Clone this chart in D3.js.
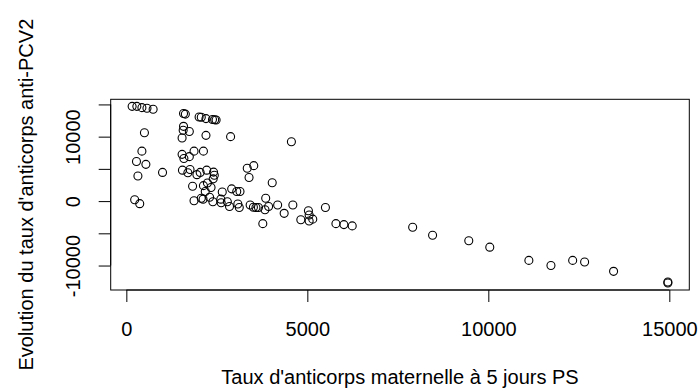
<!DOCTYPE html>
<html>
<head>
<meta charset="utf-8">
<script src="https://cdn.jsdelivr.net/npm/d3@7"></script>
<style>
  body { margin: 0; background: #fff; }
  svg { display: block; }
  text { font-family: "Liberation Sans", Arial, sans-serif; fill: #000; }
</style>
</head>
<body>
<svg id="chart"></svg>
<script>
// taux d'anticorps maternelle a 5 jours PS
const tauxMaternel = [
  160, 290, 430, 570, 740, 500, 430, 280, 540, 320, 1000, 230, 370,
  1580, 1630, 2010, 2070, 2200, 2380, 2440, 2480, 1580, 1570, 1740, 1540, 2200, 2880, 4560,
  1540, 1590, 1740, 1870, 2130, 3340, 3520, 3390, 4030,
  1550, 1700, 1760, 1950, 2040, 2220, 2410, 2430, 2400, 2240, 2130, 1830, 2340, 2180,
  2650, 2910, 3050, 3140, 1870, 2070, 2120, 2300, 2390, 2610, 2620, 2790, 2850, 3080,
  3120, 3420, 3510, 3580, 3650, 3850, 3830, 3930, 4180, 4360, 4600, 3770, 4820, 5030,
  5050, 5050, 5150, 5500, 5790, 6010, 6240,
  7910, 8460, 9460, 10040, 11120, 11730, 12330, 12660, 13460, 14960, 14960
];
// evolution du taux d'anticorps anti-PCV2
const evolution = [
  14700, 14700, 14500, 14400, 14250, 10600, 7750, 6150, 5700, 3900, 4450, 200, -400,
  13600, 13500, 13050, 13000, 12800, 12650, 12620, 12580, 11600, 11000, 10800, 9800, 10200, 10000, 9200,
  7250, 6600, 6900, 7750, 7750, 5100, 5500, 3650, 2850,
  4800, 4400, 4900, 4100, 4450, 4800, 4500, 4000, 3450, 2800, 2400, 2300, 2100, 1500,
  1400, 1900, 1500, 1500, 50, 450, 300, 600, -100, 300, -250, -100, -850, -450,
  -1000, -600, -950, -1000, -1000, 450, -1350, -850, -600, -1900, -600, -3500, -2900, -1500,
  -2150, -3100, -2800, -1000, -3500, -3650, -3850,
  -4050, -5300, -6150, -7150, -9200, -10000, -9200, -9450, -10900, -12550, -12700
];
const xTicks = [0, 5000, 10000, 15000];
const yTicks = [-10000, -5000, 0, 5000, 10000, 15000];
const yTickLabels = ["-10000", "", "0", "", "10000", ""];

const xTitle = "Taux d'anticorps maternelle à 5 jours PS";
const yTitle = "Evolution du taux d'anticorps anti-PCV2";

const W = 698, H = 391;
const margin = { top: 99.3, right: 8.7, bottom: 101, left: 110.7 };
const w = W - margin.left - margin.right;
const h = H - margin.top - margin.bottom;

// base R style 4% range padding
function padded(vals) {
  const [lo, hi] = d3.extent(vals);
  const p = (hi - lo) * 0.04;
  return [lo - p, hi + p];
}

const svg = d3.select('#chart')
  .attr('width', W)
  .attr('height', H);

const g = svg.append('g')
  .attr('transform', `translate(${margin.left},${margin.top})`);

const xScale = d3.scaleLinear()
  .domain(padded(tauxMaternel))
  .range([0, w]);
const yScale = d3.scaleLinear()
  .domain(padded(evolution))
  .range([h, 0]);

const xAxis = d3.axisBottom(xScale)
  .tickValues(xTicks)
  .tickSize(12)
  .tickPadding(0)
  .tickFormat(d => d);
const yAxis = d3.axisLeft(yScale)
  .tickValues(yTicks)
  .tickSize(12)
  .tickFormat((d, i) => yTickLabels[i]);

const gx = g.append('g')
  .attr('transform', `translate(0,${h})`)
  .call(xAxis);
gx.select('.domain')
  .attr('d', `M${xScale(xTicks[0])},0H${xScale(xTicks[xTicks.length - 1])}`);
gx.selectAll('.tick line').attr('stroke', '#000');
gx.selectAll('.tick text')
  .attr('y', 46)
  .attr('dy', null)
  .style('font-size', '20px')
  .style('font-family', '"Liberation Sans", Arial, sans-serif');

const gy = g.append('g').call(yAxis);
gy.select('.domain')
  .attr('d', `M0,${yScale(yTicks[0])}V${yScale(yTicks[yTicks.length - 1])}`);
gy.selectAll('.tick line').attr('stroke', '#000');
gy.selectAll('.tick text')
  .attr('x', null)
  .attr('dy', null)
  .attr('text-anchor', 'middle')
  .attr('transform', 'translate(-30.7,0) rotate(-90)')
  .style('font-size', '20px')
  .style('font-family', '"Liberation Sans", Arial, sans-serif');

g.append('rect')
  .attr('width', w)
  .attr('height', h)
  .attr('fill', 'none')
  .attr('stroke', '#000')
  .attr('stroke-width', 1);

g.selectAll('.pt')
  .data(tauxMaternel.map((x, i) => [x, evolution[i]]))
  .join('circle')
  .attr('class', 'pt')
  .attr('cx', d => xScale(d[0]))
  .attr('cy', d => yScale(d[1]))
  .attr('r', 4)
  .attr('fill', 'none')
  .attr('stroke', '#000')
  .attr('stroke-width', 1.1);

svg.append('text')
  .attr('x', margin.left + w / 2)
  .attr('y', 384)
  .attr('text-anchor', 'middle')
  .style('font-size', '20px')
  .text(xTitle);

svg.append('text')
  .attr('transform', `translate(33,${margin.top + h / 2}) rotate(-90)`)
  .attr('text-anchor', 'middle')
  .style('font-size', '20px')
  .text(yTitle);
</script>
</body>
</html>
